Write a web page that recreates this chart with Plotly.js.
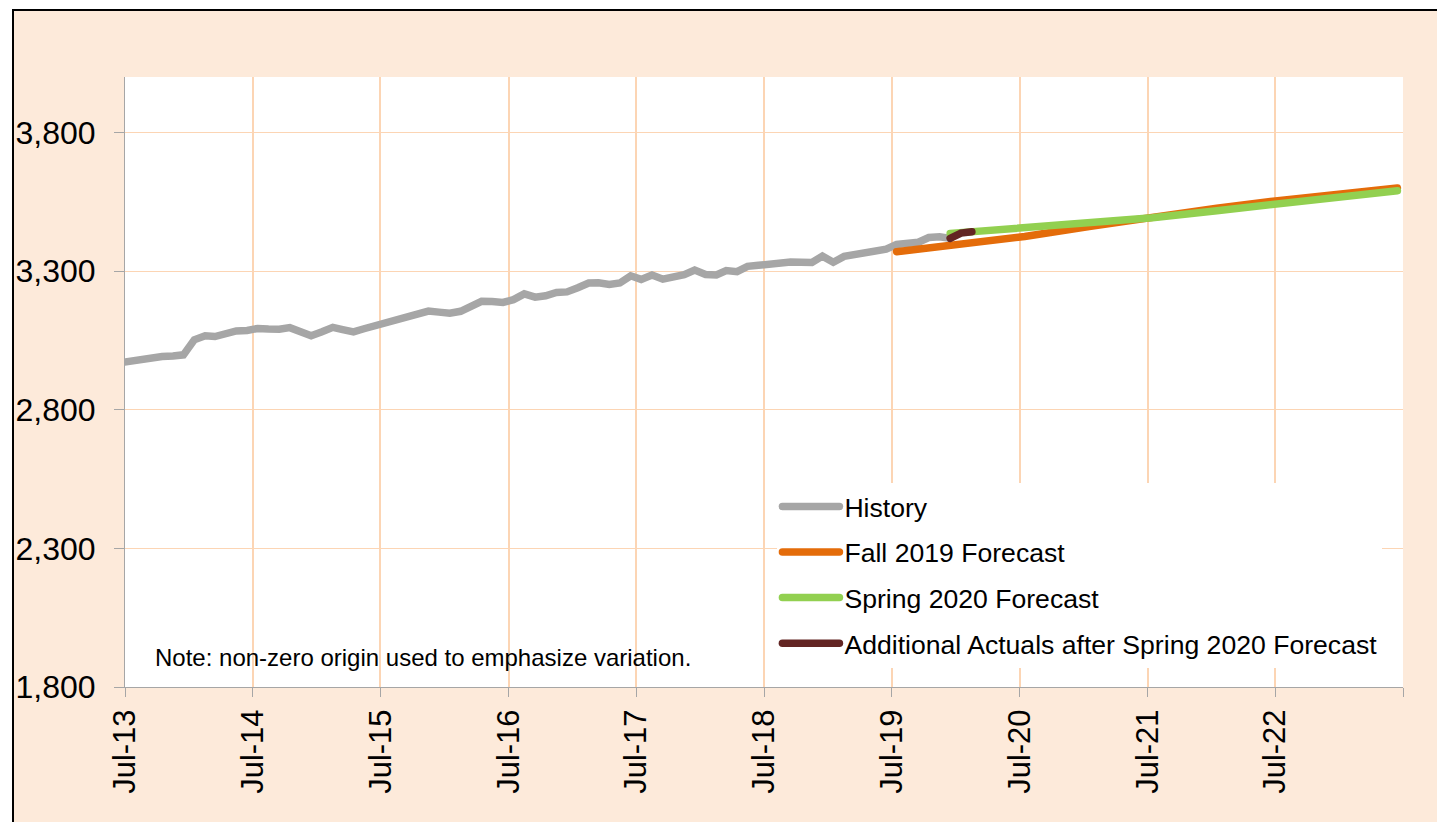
<!DOCTYPE html>
<html><head><meta charset="utf-8">
<script src="https://cdn.plot.ly/plotly-3.0.1.min.js"></script>
<style>
html,body{margin:0;padding:0;background:#fff;overflow:hidden;}
#frame{position:absolute;left:12px;top:9px;width:1440px;height:830px;background:#FDEADA;border-left:2px solid #000;border-top:2px solid #000;}
#chart{position:absolute;left:0;top:0;width:1437px;height:822px;}
#chart path.js-line{stroke-linecap:round;}
</style></head><body>
<div id="frame"></div><div id="chart"></div>
<script>
// ---- data ----
var historyStart = [2013, 6]; // first monthly point (Jun-2013, partly off-axis)
var historyValues = [2969, 2976, 2983, 2989, 2992, 2994, 2998, 3052, 3067, 3064,
  3077, 3084, 3086, 3093, 3091, 3090, 3096, 3082, 3067, 3081,
  3097, 3089, 3081, 3092, 3103, 3116, 3128, 3140, 3149, 3156,
  3152, 3148, 3155, 3170, 3191, 3190, 3187, 3197, 3218, 3206,
  3211, 3223, 3225, 3240, 3257, 3258, 3252, 3257, 3283, 3270,
  3286, 3271, 3278, 3287, 3304, 3288, 3286, 3302, 3298, 3317,
  3321, 3325, 3334, 3333, 3332, 3331, 3354, 3332, 3353, 3358,
  3362, 3371, 3379, 3396, 3399, 3404, 3421, 3424, 3418];

var fallDates = ['2019-07-15','2020-01-15','2020-07-15','2021-01-15','2021-07-15','2022-01-15','2022-07-15','2023-01-15','2023-06-15'];
var fallValues = [3370, 3396, 3425, 3461, 3496, 3527, 3555, 3580, 3600];

var springDates = ['2019-12-15','2020-07-15','2021-01-15','2021-07-15','2022-01-15','2022-07-15','2023-01-15','2023-06-15'];
var springValues = [3436, 3458, 3471, 3492, 3518, 3543, 3567, 3590];

var actualDates = ['2019-12-15','2020-01-15','2020-02-15'];
var actualValues = [3418, 3437, 3442];

var tickDates = ['2013-07-01','2014-07-01','2015-07-01','2016-07-01','2017-07-01','2018-07-01','2019-07-01','2020-07-01','2021-07-01','2022-07-01','2023-07-01'];
var tickLabels = ['Jul-13','Jul-14','Jul-15','Jul-16','Jul-17','Jul-18','Jul-19','Jul-20','Jul-21','Jul-22',''];
var yTicks = [1800, 2300, 2800, 3300, 3800];
var seriesNames = ['History','Fall 2019 Forecast','Spring 2020 Forecast','Additional Actuals after Spring 2020 Forecast'];
var seriesColors = ['#A6A6A6','#E46C0A','#92D050','#632523'];
var noteText = 'Note: non-zero origin used to emphasize variation.';

// month sequence for history (mid-month positions)
function monthSeq(start, n){
  var out = [], y = start[0], m = start[1];
  for (var i = 0; i < n; i++){
    out.push(y + '-' + (m < 10 ? '0' + m : m) + '-15');
    m++; if (m > 12){ m = 1; y++; }
  }
  return out;
}
var historyDates = monthSeq(historyStart, historyValues.length);

var FONT = 'Liberation Sans, Arial, Helvetica, sans-serif';
function tr(i, x, y){
  return {x:x, y:y, type:'scatter', mode:'lines', name:seriesNames[i], legendgroup:'g'+i,
    line:{color:seriesColors[i], width:7.5}, hoverinfo:'x+y'};
}
var traces = [
  tr(0, historyDates, historyValues),
  tr(1, fallDates, fallValues),
  tr(2, springDates, springValues),
  tr(3, actualDates, actualValues)
];

var layout = {
  width:1437, height:822,
  paper_bgcolor:'rgba(0,0,0,0)', plot_bgcolor:'#FFFFFF',
  margin:{l:125, r:34, t:77, b:135, pad:0},
  font:{family:FONT, color:'#000'},
  showlegend:true,
  legend:{x:0.5105, xanchor:'left', y:0.335, yanchor:'top', bgcolor:'#FFFFFF', borderwidth:0,
    font:{family:FONT, size:26.6, color:'#000'}, tracegroupgap:8, traceorder:'grouped', itemwidth:57},
  xaxis:{type:'date', range:['2013-07-01','2023-07-01'], tickmode:'array', tickvals:tickDates, ticktext:tickLabels,
    tickangle:-90, tickfont:{family:FONT, size:31, color:'#000'},
    showgrid:true, gridcolor:'#FCD5B4', gridwidth:2, zeroline:false,
    showline:true, linecolor:'#A6A6A6', linewidth:1, ticks:'outside', ticklen:9, tickcolor:'#A6A6A6', tickwidth:1,
    fixedrange:true},
  yaxis:{range:[1800,4000], tickmode:'array', tickvals:yTicks, tickformat:',', 
    tickfont:{family:FONT, size:32, color:'#000'},
    showgrid:true, gridcolor:'#FCD5B4', gridwidth:1, zeroline:false,
    showline:true, linecolor:'#A6A6A6', linewidth:1, ticks:'outside', ticklen:10, tickcolor:'#A6A6A6', tickwidth:1,
    ticklabelstandoff:12, fixedrange:true},
  annotations:[{xref:'paper', yref:'paper', x:0.022, y:0.049, xanchor:'left', yanchor:'middle',
    text:noteText, showarrow:false, font:{family:FONT, size:24, color:'#000'}}]
};
Plotly.newPlot('chart', traces, layout, {displayModeBar:false, staticPlot:true});
</script>
</body></html>
